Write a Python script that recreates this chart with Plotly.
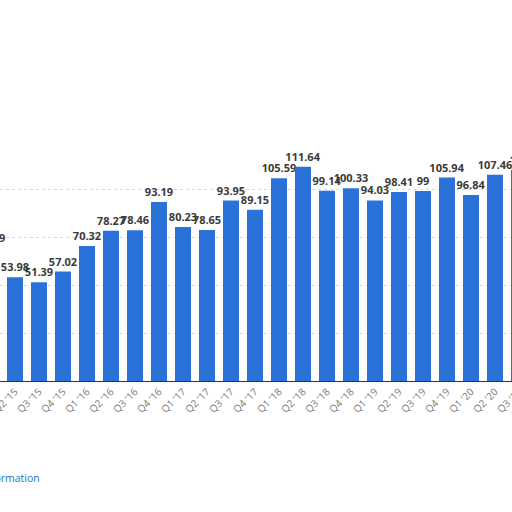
import plotly.graph_objects as go

quarters = ["Q1 '15", "Q2 '15", "Q3 '15", "Q4 '15", "Q1 '16", "Q2 '16", "Q3 '16", "Q4 '16",
            "Q1 '17", "Q2 '17", "Q3 '17", "Q4 '17", "Q1 '18", "Q2 '18", "Q3 '18", "Q4 '18",
            "Q1 '19", "Q2 '19", "Q3 '19", "Q4 '19", "Q1 '20", "Q2 '20", "Q3 '20"]
values = [68.59, 53.98, 51.39, 57.02, 70.32, 78.27, 78.46, 93.19,
          80.23, 78.65, 93.95, 89.15, 105.59, 111.64, 99.14, 100.33,
          94.03, 98.41, 99, 105.94, 96.84, 107.46, 110.0]
labels = ["68.59", "53.98", "51.39", "57.02", "70.32", "78.27", "78.46", "93.19",
          "80.23", "78.65", "93.95", "89.15", "105.59", "111.64", "99.14", "100.33",
          "94.03", "98.41", "99", "105.94", "96.84", "107.46", "110"]
y_ticks = [0, 25, 50, 75, 100, 125]

xs = list(range(len(quarters)))
fig_w = 540
x_range = [0.375, 0.375 + fig_w / 24]

fig = go.Figure()
fig.add_trace(go.Bar(
    x=xs, y=values, text=labels, textposition="outside",
    texttemplate="<b>%{text}</b>",
    textfont=dict(family="Open Sans", size=11, color="#3a3a3a"),
    constraintext="none",
    marker=dict(color="#2b72d8", line=dict(width=0)),
    cliponaxis=False,
))

# label of the first bar, which lies left of the visible area
fig.add_annotation(x=(xs[0] - x_range[0]) / (x_range[1] - x_range[0]), xref="paper",
                   xanchor="center", y=values[0], yref="y",
                   text="<b>" + labels[0] + "</b>", showarrow=False,
                   yanchor="bottom", yshift=2,
                   font=dict(family="Open Sans", size=11, color="#3a3a3a"))

fig.update_layout(
    width=fig_w, height=512,
    margin=dict(l=0, r=0, t=141, b=131, autoexpand=False),
    paper_bgcolor="white", plot_bgcolor="white",
    bargap=0.333,
    showlegend=False,
    xaxis=dict(range=x_range, tickmode="array", tickvals=xs, ticktext=quarters,
               tickangle=-45, tickfont=dict(family="Open Sans", size=10, color="#7a7a7a"),
               ticklabeloverflow="allow",
               showgrid=False, showline=True, linecolor="#333333", linewidth=1,
               ticks="", zeroline=False, automargin=False),
    yaxis=dict(range=[0, 125], tickvals=y_ticks, showticklabels=False,
               showgrid=True, gridcolor="#d8d8d8", griddash="dot", gridwidth=1,
               zeroline=False, showline=False, automargin=False),
)
fig.add_annotation(text="Additional Information", xref="paper", yref="paper",
                   x=42/fig_w, y=-0.405, xanchor="right", yanchor="middle",
                   showarrow=False, font=dict(family="Open Sans", size=10.5, color="#1a75c4"))

fig.write_html("out.html", config={"displayModeBar": False},
               post_script="document.body.style.margin='0';"
                           "document.body.style.overflow='hidden';"
                           "document.documentElement.style.overflow='hidden';")
